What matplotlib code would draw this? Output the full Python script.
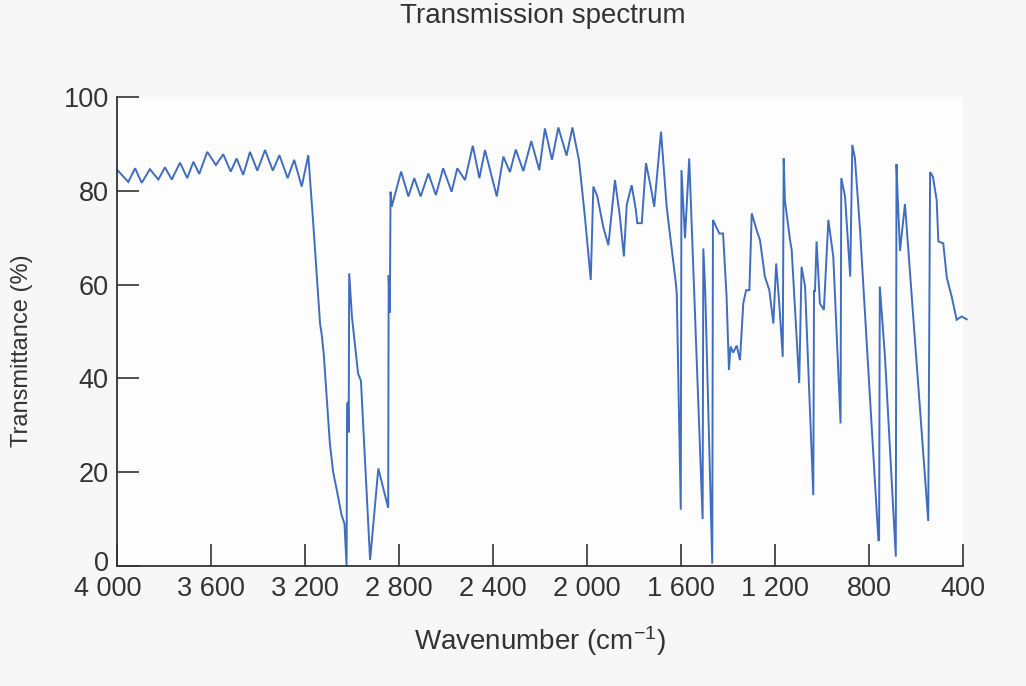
import matplotlib
matplotlib.use("Agg")
import matplotlib.pyplot as plt
import matplotlib.transforms as mtransforms

plt.rcParams['font.family'] = ['Liberation Sans', 'DejaVu Sans']
plt.rcParams['mathtext.fontset'] = 'custom'
plt.rcParams['mathtext.rm'] = 'Liberation Sans'
plt.rcParams['mathtext.it'] = 'Liberation Sans'

# ---- data ----
wavenumber = [
    4000, 3952, 3923, 3895, 3860, 3824, 3796, 3767, 3732, 3701, 3675, 3650, 3616, 3579,
    3548, 3516, 3491, 3463, 3434, 3403, 3370, 3337, 3309, 3274, 3246, 3214, 3186,
    3165, 3136, 3128, 3120, 3094, 3080, 3060, 3045, 3032, 3023, 3021, 3017, 3014, 3012,
    3000, 2974, 2962, 2923, 2888, 2846, 2844, 2841, 2839, 2836, 2831,
    2791, 2760, 2735, 2708, 2675, 2643, 2612, 2576, 2552, 2519, 2486, 2458, 2434, 2384,
    2356, 2328, 2303, 2271, 2237, 2203, 2179, 2149, 2122, 2087, 2062, 2034, 2009, 1984,
    1973, 1956, 1931, 1909, 1881, 1860, 1843, 1831, 1810, 1792, 1786, 1767, 1749, 1729, 1714,
    1685, 1661, 1622, 1618, 1601, 1598, 1583, 1565, 1508, 1505, 1497, 1467, 1464, 1437, 1421,
    1406, 1396, 1389, 1378, 1363, 1349, 1335, 1323, 1309, 1299, 1278, 1264, 1243, 1224, 1207,
    1195, 1182, 1167, 1163, 1158, 1136, 1129, 1097, 1087, 1072, 1037, 1034, 1030, 1023, 1009,
    992, 973, 952, 921, 918, 902, 880, 871, 860, 838, 760, 757, 754, 732, 686,
    683, 678, 668, 647, 548, 540, 528, 512, 505, 484, 469, 448, 427, 406, 384,
]
transmittance = [
    84.5, 81.9, 84.8, 81.7, 84.6, 82.4, 85.0, 82.4, 86.0, 82.7, 86.2, 83.6, 88.3, 85.5,
    87.8, 84.1, 86.9, 83.4, 88.3, 84.3, 88.7, 84.3, 87.6, 82.7, 86.6, 80.9, 87.6,
    73.1, 51.7, 49.0, 45.0, 26.0, 20.0, 15.0, 11.0, 9.0, 0.0, 34.5, 35.0, 28.5, 62.4,
    53.0, 41.0, 39.5, 1.3, 20.8, 12.4, 62.0, 57.4, 54.0, 79.8, 76.6,
    84.1, 78.8, 82.7, 78.8, 83.7, 79.1, 84.8, 79.8, 84.8, 82.3, 89.6, 82.7, 88.7, 78.8,
    87.3, 84.0, 88.8, 84.2, 90.6, 84.4, 93.3, 86.6, 93.5, 87.5, 93.5, 86.5, 74.5, 61.0,
    80.9, 78.8, 72.3, 68.4, 82.3, 74.5, 66.0, 77.0, 81.2, 75.9, 73.1, 73.1, 85.9, 80.9, 76.6,
    92.6, 76.6, 60.3, 58.0, 12.0, 84.4, 69.9, 86.9, 10.0, 67.7, 58.8, 0.5, 73.8, 70.9, 70.9,
    57.4, 41.8, 46.8, 45.5, 47.0, 43.9, 56.0, 58.8, 58.8, 75.2, 71.6, 69.5, 61.7, 58.8, 51.7,
    64.5, 56.0, 44.6, 86.9, 78.0, 69.5, 67.4, 39.0, 63.8, 59.6, 15.1, 58.8, 58.5, 69.2, 56.0,
    54.6, 73.8, 66.0, 30.4, 82.7, 78.8, 61.7, 89.8, 87.0, 71.6, 5.5, 5.5, 59.6, 44.6, 2.0,
    85.7, 78.8, 67.2, 77.2, 9.6, 84.0, 83.0, 78.0, 69.2, 68.8, 61.5, 57.4, 52.5, 53.2, 52.6,
]
x_ticks = [4000, 3600, 3200, 2800, 2400, 2000, 1600, 1200, 800, 400]
x_tick_labels = ["4 000", "3 600", "3 200", "2 800", "2 400", "2 000", "1 600", "1 200", "800", "400"]
y_ticks = [0, 20, 40, 60, 80, 100]

title = "Transmission spectrum"
x_label = r"Wavenumber (cm$^{-1}$)"
y_label = "Transmittance (%)"

# ---- figure ----
fig = plt.figure(figsize=(10.26, 6.86), dpi=100)
fig.patch.set_facecolor('#f7f7f7')
ax = fig.add_axes([117/1026, 1 - 566/686, (963-117)/1026, (566-97)/686])
ax.set_facecolor('#fdfdfd')

ax.plot(wavenumber, transmittance, color='#3f6dc0', lw=1.4, clip_on=False,
        solid_joinstyle='miter')

ax.set_xlim(4000, 400)
ax.set_ylim(0, 100)
ax.set_xticks(x_ticks)
ax.set_xticklabels(x_tick_labels)
ax.set_yticks(y_ticks)

for s in ['top', 'right']:
    ax.spines[s].set_visible(False)
for s in ['left', 'bottom']:
    ax.spines[s].set_color('#333333')
    ax.spines[s].set_linewidth(1.3)

ax.tick_params(axis='both', direction='in', length=16, width=1.2, color='#333333',
               labelsize=19.5, labelcolor='#333333')
ax.tick_params(axis='x', pad=7)
ax.tick_params(axis='y', pad=6)

# small nudges seen in the reference: first x label sits left of its tick, "0" sits a bit high
xl = ax.get_xticklabels()
xl[0].set_transform(xl[0].get_transform() + mtransforms.ScaledTranslation(-9/100, 0, fig.dpi_scale_trans))
yl = ax.get_yticklabels()
yl[0].set_transform(yl[0].get_transform() + mtransforms.ScaledTranslation(0, 5/100, fig.dpi_scale_trans))

ax.set_xlabel(x_label, fontsize=20, color='#333333')
ax.xaxis.set_label_coords(0.5, -0.125)
ax.set_ylabel(y_label, fontsize=17, color='#333333')
ax.yaxis.set_label_coords(-0.099, 0.46)

fig.text(543/1026, 1 - 16/686, title, ha='center', va='center', fontsize=20, color='#333333')

fig.savefig('out.png', dpi=100, facecolor=fig.get_facecolor())
